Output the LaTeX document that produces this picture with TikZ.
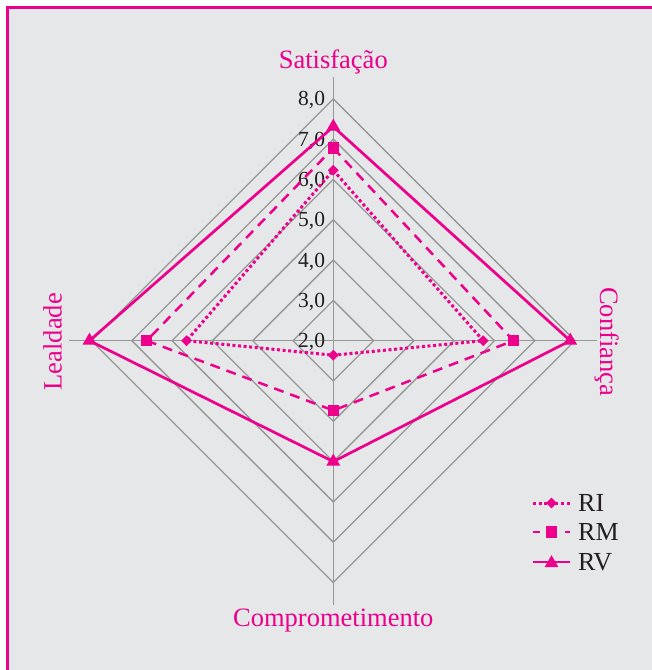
\documentclass[tikz,border=0pt]{standalone}
\usepackage{fontspec}
\setmainfont{Liberation Serif}
\usetikzlibrary{shapes.geometric}

\definecolor{chartpink}{HTML}{EC008C}
\definecolor{bggray}{HTML}{E6E7E8}
\definecolor{gridgray}{HTML}{979797}
\definecolor{inkblack}{HTML}{231F20}

\begin{document}
\begin{tikzpicture}[x=1pt, y=1pt,
    grid/.style={draw=gridgray, line width=1.3pt},
    ri/.style={draw=chartpink, line width=3pt, dash pattern=on 3pt off 2.6pt},
    rm/.style={draw=chartpink, line width=2.5pt, dash pattern=on 10pt off 7pt},
    rv/.style={draw=chartpink, line width=2.7pt},
    ridot/.style={diamond, fill=chartpink, inner sep=0pt, minimum width=11pt, minimum height=11pt},
    rmdot/.style={rectangle, fill=chartpink, inner sep=0pt, minimum size=11.5pt},
    rvdot/.style={regular polygon, regular polygon sides=3, fill=chartpink, inner sep=0pt, minimum size=16pt},
    tick/.style={text=inkblack, inner sep=0pt, font=\fontsize{21.5}{24}\selectfont},
    axlabel/.style={text=chartpink, inner sep=0pt, font=\fontsize{26.5}{30}\selectfont},
    keylabel/.style={text=inkblack, inner sep=0pt, font=\fontsize{26}{30}\selectfont}]

    % Size of the chart
    \def\unit{40.3}
    \def\rmax{264}
    \coordinate (center) at (0, 0);

    % Page and frame
    \useasboundingbox (-333.3, -329.3) rectangle (318.7, 340.7);
    \fill[white] (-333.3, -329.3) rectangle (318.7, 340.7);
    \draw[chartpink, line width=3pt, fill=bggray] (-325.8, 333.2) rectangle (340, -345);

    % Rings from 3,0 up to 8,0
    \foreach \r in {1,...,6}
        \draw[grid] (90:{\r*\unit}) -- (0:{\r*\unit}) -- (270:{\r*\unit}) -- (180:{\r*\unit}) -- cycle;

    % Axes
    \coordinate (axS) at (90:\rmax);
    \coordinate (axC) at (0:\rmax);
    \coordinate (axCo) at (270:\rmax);
    \coordinate (axL) at (180:\rmax);
    \draw[grid] (axS) -- (axCo);
    \draw[grid] (axL) -- (axC);

    % Axis ticks
    \foreach \v in {2,...,8}
        \node[tick, anchor=base east] (t\v) at (-8, {(\v-2)*\unit-7}) {\v,0};

    % Labels for axes
    \node[axlabel, anchor=base] (satisf) at (0, 272.4) {Satisfação};
    \node[axlabel, anchor=base] (compr) at (0, -286) {Comprometimento};
    \node[axlabel, anchor=base, rotate=-90] (conf) at (266.7, -1) {Confiança};
    \node[axlabel, anchor=base, rotate=90] (leal) at (-271.6, -1) {Lealdade};

    % Points
    \coordinate (riS) at (90:{(6.23-2)*\unit});
    \coordinate (riC) at (0:{(5.72-2)*\unit});
    \coordinate (riCo) at (270:{(2.36-2)*\unit});
    \coordinate (riL) at (180:{(5.64-2)*\unit});
    \coordinate (rmS) at (90:{(6.78-2)*\unit});
    \coordinate (rmC) at (0:{(6.47-2)*\unit});
    \coordinate (rmCo) at (270:{(3.73-2)*\unit});
    \coordinate (rmL) at (180:{(6.63-2)*\unit});
    \coordinate (rvS) at (90:{(7.31-2)*\unit});
    \coordinate (rvC) at (0:{(7.88-2)*\unit});
    \coordinate (rvCo) at (270:{(5.0-2)*\unit});
    \coordinate (rvL) at (180:{(8.05-2)*\unit});

    \draw[ri] (riS) -- (riC) -- (riCo) -- (riL) -- cycle;
    \draw[rm] (rmS) -- (rmC) -- (rmCo) -- (rmL) -- cycle;
    \draw[rv] (rvS) -- (rvC) -- (rvCo) -- (rvL) -- cycle;

    \foreach \p in {S,C,Co,L} {
        \node[ridot] (riDot\p) at (ri\p) {};
        \node[rmdot] (rmDot\p) at (rm\p) {};
        \node[rvdot] (rvDot\p) at (rv\p) {};
    }

    % Legend
    \coordinate (riA) at (199.7, -162.3);
    \coordinate (riB) at (236.7, -162.3);
    \coordinate (rmA) at (199.7, -191.3);
    \coordinate (rmB) at (236.7, -191.3);
    \coordinate (rvA) at (199.7, -221.3);
    \coordinate (rvB) at (236.7, -221.3);
    \draw[ri] (riA) -- (riB);
    \draw[rm, dash pattern=on 7pt off 25pt] (rmA) -- (rmB);
    \draw[rv] (rvA) -- (rvB);
    \node[ridot] (riKey) at (218.2, -162.3) {};
    \node[rmdot] (rmKey) at (218.2, -191.3) {};
    \node[rvdot] (rvKey) at (218.2, -222.5) {};
    \node[keylabel, anchor=west] (riText) at (244.7, -162.3) {RI};
    \node[keylabel, anchor=west] (rmText) at (244.7, -191.3) {RM};
    \node[keylabel, anchor=west] (rvText) at (244.7, -221.3) {RV};

\end{tikzpicture}
\end{document}
